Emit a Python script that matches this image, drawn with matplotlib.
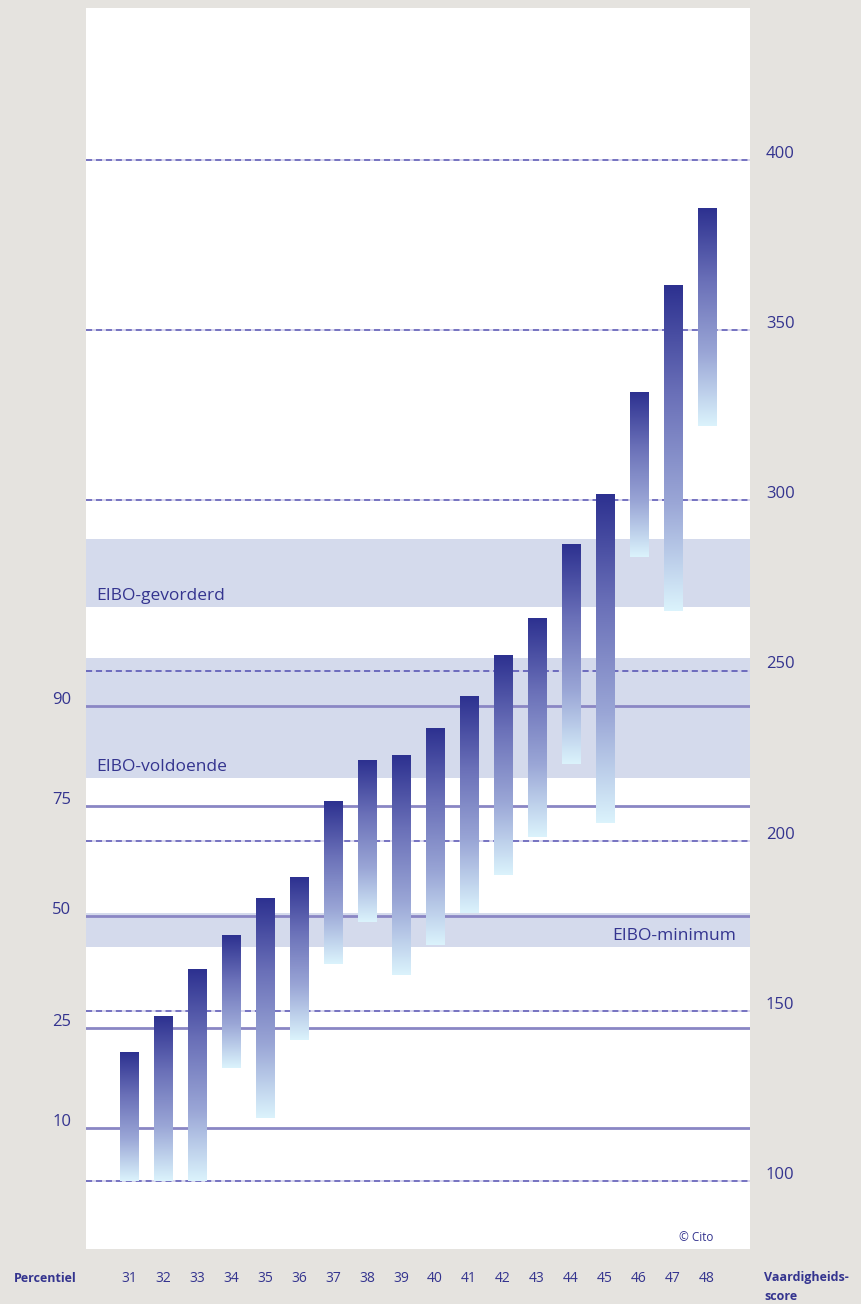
import matplotlib
matplotlib.use("Agg")
import matplotlib.pyplot as plt
import numpy as np
from matplotlib.colors import LinearSegmentedColormap

plt.rcParams['font.family'] = ['Open Sans', 'DejaVu Sans']

# Data
scores = [31, 32, 33, 34, 35, 36, 37, 38, 39, 40, 41, 42, 43, 44, 45, 46, 47, 48]
bar_top = [137.9, 148.2, 162.3, 172.0, 182.9, 189.3, 211.7, 223.7, 224.9, 233.1,
           242.5, 254.3, 265.4, 286.9, 301.6, 331.6, 363.3, 385.9]
bar_bottom = [100.0, 100.0, 100.0, 133.2, 118.5, 141.4, 163.8, 176.1, 160.5, 169.4,
              178.8, 189.9, 201.1, 222.5, 205.2, 283.4, 267.5, 321.9]
bands = [("EIBO-gevorderd", 268.7, 288.7), ("EIBO-voldoende", 218.4, 253.7),
         ("EIBO-minimum", 168.8, 178.8)]
percentile_labels = ["90", "75", "50", "25", "10"]
percentile_values = [239.6, 210.2, 177.9, 145.0, 115.6]
skill_ticks = [100, 150, 200, 250, 300, 350, 400]

BG = '#e5e3df'
TXT = '#34348f'
BAND = '#d4daec'
PLINE = '#8a86c4'

fig = plt.figure(figsize=(8.62, 13.04), dpi=100, facecolor=BG)
ax = fig.add_axes([86/862, 55/1304, 664/862, 1241/1304])
ax.set_facecolor('white')
ymin, ymax = 80.0, 444.7
ax.set_ylim(ymin, ymax)
ax.set_xlim(29.735, 49.265)
for s in ax.spines.values():
    s.set_visible(False)
ax.set_xticks([])
ax.set_yticks([])

# bands
for name, lo, hi in bands:
    ax.axhspan(lo, hi, color=BAND, zorder=1, lw=0)

# dashed lines
for v in skill_ticks:
    ax.axhline(v, color='#4f4cb0', lw=1.1, ls=(0, (4, 2.5)), gapcolor='#cfcde9', zorder=2)

# percentile lines
for v in percentile_values:
    ax.axhline(v, color=PLINE, lw=2.0, zorder=2)

# gradient bars
cmap = LinearSegmentedColormap.from_list('g', ['#2d3190', '#6a70b8', '#9aa6d6', '#dbf3fc'])
grad = np.linspace(0, 1, 256).reshape(-1, 1)
w = 0.53
for x, t, b in zip(scores, bar_top, bar_bottom):
    ax.imshow(grad, cmap=cmap, aspect='auto', extent=(x - w/2, x + w/2, b, t),
              origin='upper', zorder=3, interpolation='bilinear')
ax.set_xlim(29.735, 49.265)
ax.set_ylim(ymin, ymax)

# band labels
ax.text(30.05, 268.7 + 0.8, "EIBO-gevorderd", color=TXT, fontsize=12.5, va='bottom', ha='left', zorder=4)
ax.text(30.05, 218.4 + 0.8, "EIBO-voldoende", color=TXT, fontsize=12.5, va='bottom', ha='left', zorder=4)
ax.text(48.85, 168.8 + 0.8, "EIBO-minimum", color=TXT, fontsize=12.5, va='bottom', ha='right', zorder=4)
ax.text(48.2, 83.5, "© Cito", color=TXT, fontsize=8.5, va='center', ha='right', zorder=4)

# right-side labels
trans_r = ax.get_yaxis_transform()
for v in skill_ticks:
    ax.text(1.024, v + 1.8, str(v), transform=trans_r, color=TXT, fontsize=12,
            ha='left', va='center', clip_on=False)
for lab, v in zip(percentile_labels, percentile_values):
    ax.text(-0.022, v + 1.8, lab, transform=trans_r, color=TXT, fontsize=12,
            ha='right', va='center', clip_on=False)

# bottom labels
ylab = 1 - 1278/1304
for x in scores:
    xf = ax.transData.transform((x, 0))[0] / fig.dpi / 8.62
    fig.text(xf, ylab, str(x), color=TXT, fontsize=10, ha='center', va='center')
fig.text(14/862, ylab, "Percentiel", color=TXT, fontsize=9, fontweight='bold', ha='left', va='center')
fig.text(764/862, ylab, "Vaardigheids-", color=TXT, fontsize=9, fontweight='bold', ha='left', va='center')
fig.text(764/862, 1 - 1296/1304, "score", color=TXT, fontsize=9, fontweight='bold', ha='left', va='center')

fig.savefig('out.png', dpi=100, facecolor=BG)
